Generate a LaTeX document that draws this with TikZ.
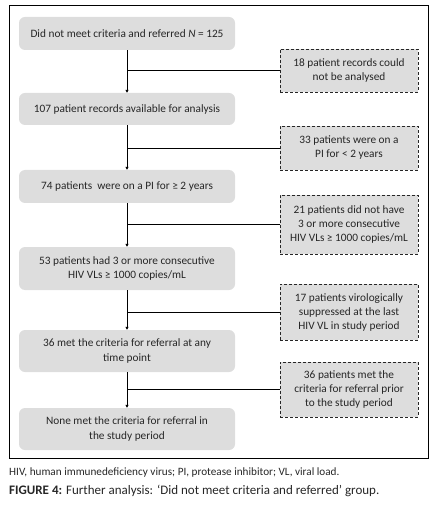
\documentclass[tikz,border=0pt]{standalone}
\usepackage{fontspec}
\setmainfont{Carlito}
\usetikzlibrary{arrows.meta}
\definecolor{boxgray}{HTML}{DDDDDD}
\definecolor{txt}{HTML}{262626}
\begin{document}
\begin{tikzpicture}[x=1pt,y=-1pt,
  mainbox/.style={fill=boxgray,rounded corners=6pt,minimum width=216pt,align=center,text=txt,font=\fontsize{11.3}{14.8}\selectfont,inner sep=0pt},
  sidebox/.style={fill=boxgray,draw=black!85,dashed,line width=0.7pt,minimum width=138pt,align=center,text=txt,font=\fontsize{11.3}{14}\selectfont,inner sep=0pt,dash pattern=on 3pt off 2pt},
  flow/.style={line width=0.8pt,-{Triangle[length=3pt,width=3pt]}},
  link/.style={line width=0.8pt}]
\useasboundingbox (0,0) rectangle (433,510);
\draw[line width=0.8pt] (9,5) rectangle (428,458);
\node[mainbox,minimum height=33pt] (b1) at (127,33.5) {Did not meet criteria and referred \textit{N} = 125};
\node[mainbox,minimum height=32pt] (b2) at (127,109) {107 patient records available for analysis};
\node[mainbox,minimum height=33pt] (b3) at (127,186.5) {74 patients\ \ were on a PI for ≥ 2 years};
\node[mainbox,minimum height=43pt] (b4) at (127,268.5) {53 patients had 3 or more consecutive\\HIV VLs ≥ 1000 copies/mL};
\node[mainbox,minimum height=42pt] (b5) at (127,351) {36 met the criteria for referral at any\\time point};
\node[mainbox,minimum height=42pt] (b6) at (127,429) {None met the criteria for referral in\\the study period};
\node[sidebox,minimum height=43pt] (s1) at (349,70.5) {18 patient records could\\not be analysed};
\node[sidebox,minimum height=44pt] (s2) at (349,148) {33 patients were on a\\PI for < 2 years};
\node[sidebox,minimum height=59pt] (s3) at (349,224.5) {21 patients did not have\\3 or more consecutive\\HIV VLs ≥ 1000 copies/mL};
\node[sidebox,minimum height=56pt] (s4) at (349,312) {17 patients virologically\\suppressed at the last\\HIV VL in study period};
\node[sidebox,minimum height=55pt] (s5) at (349,389.5) {36 patients met the\\criteria for referral prior\\to the study period};
\foreach \a/\b in {b1/b2,b2/b3,b3/b4,b4/b5,b5/b6} \draw[flow] (\a.south) -- (\b.north);
\foreach \s/\a in {s1/b1,s2/b2,s3/b3,s4/b4,s5/b5} \draw[link] (\s.west) -- (\s.west -| \a.south);
\node[anchor=west,inner sep=0pt,text=txt,font=\fontsize{11.2}{13}\selectfont] (n1) at (9,473) {HIV, human immunedeficiency virus; PI, protease inhibitor; VL, viral load.};
\node[anchor=west,inner sep=0pt,text=txt,font=\fontsize{13}{14}\selectfont] (n2) at (9,491) {\textbf{FIGURE 4:} Further analysis: ‘Did not meet criteria and referred’ group.};
\end{tikzpicture}
\end{document}
